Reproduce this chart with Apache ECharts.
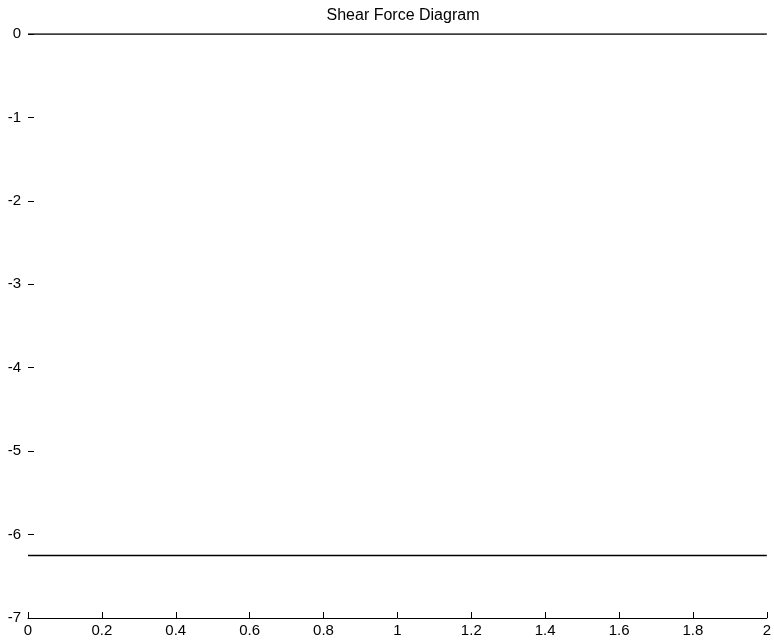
<!DOCTYPE html>
<html>
<head>
<meta charset="utf-8">
<script src="https://cdn.jsdelivr.net/npm/echarts@6/dist/echarts.min.js"></script>
<style>
html,body{margin:0;padding:0;background:#fff;}
#c{width:774px;height:642px;}
</style>
</head>
<body>
<div id="c"></div>
<script>
// Data
var xPositions = [0, 2];
var shearTop = [0, 0];
var shearBottom = [-6.25, -6.25];
var xTicks = [0, 0.2, 0.4, 0.6, 0.8, 1, 1.2, 1.4, 1.6, 1.8, 2];
var yTicks = [0, -1, -2, -3, -4, -5, -6, -7];

function pairs(xs, ys) { return xs.map(function (x, i) { return [x, ys[i]]; }); }

var FONT = 'Liberation Sans, Arial, sans-serif';
var chart = echarts.init(document.getElementById('c'), null, {renderer: 'canvas'});
chart.setOption({
  animation: false,
  backgroundColor: '#fff',
  title: {
    text: 'Shear Force Diagram',
    left: 398, top: 3, textAlign: 'center',
    textStyle: {fontFamily: FONT, fontSize: 16, fontWeight: 'normal', color: '#000'}
  },
  grid: {left: 28, right: 6, top: 34, bottom: 24, containLabel: false},
  xAxis: {
    type: 'value', min: 0, max: 2, interval: 0.2,
    axisLine: {show: true, onZero: false, lineStyle: {color: '#000', width: 1}},
    axisTick: {show: true, inside: true, length: 6, lineStyle: {color: '#000'}},
    axisLabel: {color: '#000', fontSize: 15, fontFamily: FONT, margin: 5,
      formatter: function (v) { return String(Math.round(v * 10) / 10); }},
    splitLine: {show: false}
  },
  yAxis: {
    type: 'value', min: -7, max: 0, interval: 1,
    axisLine: {show: false},
    axisTick: {show: true, inside: true, length: 6, lineStyle: {color: '#000'}},
    axisLabel: {color: '#000', fontSize: 15, fontFamily: FONT, margin: 7},
    splitLine: {show: false}
  },
  series: [
    {type: 'line', data: pairs(xPositions, shearTop), showSymbol: false, lineStyle: {color: '#000', width: 1.5}},
    {type: 'line', data: pairs(xPositions, shearBottom), showSymbol: false, lineStyle: {color: '#000', width: 1.5}}
  ]
});
</script>
</body>
</html>
